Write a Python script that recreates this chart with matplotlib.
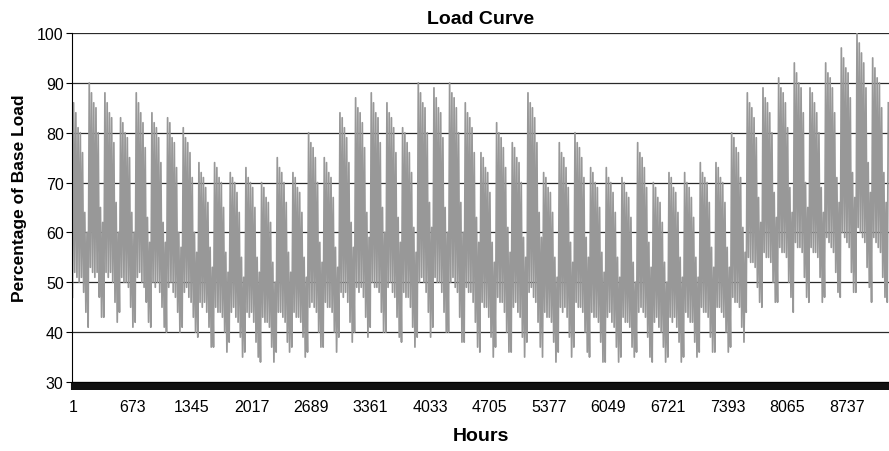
import numpy as np
from matplotlib import pyplot as plt

plt.rcParams['font.family'] = ['Liberation Sans', 'DejaVu Sans']

# Daily peak load (% of base load), one row per week: Mon..Sun
daily_peaks = [
    [86, 84, 81, 80, 76, 64, 60],
    [90, 88, 86, 85, 80, 65, 62],
    [88, 86, 84, 83, 78, 66, 60],
    [83, 82, 80, 79, 75, 64, 60],
    [88, 86, 84, 82, 77, 63, 58],
    [84, 82, 81, 79, 74, 62, 58],
    [83, 82, 79, 78, 73, 60, 57],
    [81, 79, 78, 76, 71, 60, 56],
    [74, 72, 71, 69, 66, 57, 53],
    [74, 73, 71, 70, 65, 56, 52],
    [72, 71, 70, 68, 64, 55, 51],
    [73, 71, 70, 69, 65, 55, 52],
    [70, 69, 67, 66, 62, 54, 50],
    [75, 73, 72, 70, 66, 56, 52],
    [72, 71, 69, 68, 64, 55, 51],
    [80, 78, 77, 75, 70, 58, 54],
    [75, 74, 72, 71, 67, 57, 53],
    [84, 83, 81, 79, 74, 62, 57],
    [87, 85, 84, 82, 77, 64, 59],
    [88, 86, 84, 83, 78, 65, 60],
    [86, 84, 83, 81, 76, 63, 58],
    [81, 80, 78, 76, 72, 61, 56],
    [90, 88, 86, 85, 80, 66, 61],
    [89, 87, 85, 84, 79, 65, 60],
    [90, 88, 87, 85, 80, 66, 60],
    [86, 84, 83, 81, 76, 63, 58],
    [76, 75, 73, 72, 68, 58, 54],
    [82, 80, 79, 77, 73, 61, 56],
    [78, 77, 75, 74, 70, 59, 55],
    [88, 86, 85, 83, 78, 64, 59],
    [72, 71, 69, 68, 64, 55, 51],
    [78, 76, 75, 73, 69, 58, 54],
    [80, 78, 77, 75, 71, 59, 55],
    [73, 72, 70, 69, 65, 56, 52],
    [73, 71, 70, 68, 64, 55, 51],
    [71, 70, 68, 67, 63, 54, 50],
    [78, 76, 75, 73, 69, 58, 53],
    [70, 69, 67, 66, 62, 54, 50],
    [72, 71, 69, 68, 64, 55, 51],
    [72, 70, 69, 67, 63, 55, 51],
    [74, 72, 71, 70, 66, 57, 53],
    [74, 73, 71, 70, 66, 57, 53],
    [80, 79, 77, 76, 71, 61, 56],
    [88, 86, 85, 83, 79, 67, 62],
    [89, 87, 86, 84, 80, 68, 63],
    [91, 89, 88, 86, 81, 69, 64],
    [94, 92, 90, 89, 84, 70, 65],
    [89, 88, 86, 84, 80, 69, 64],
    [94, 92, 91, 89, 84, 71, 66],
    [97, 95, 93, 92, 87, 72, 67],
    [100, 98, 96, 94, 89, 74, 68],
    [95, 93, 91, 90, 85, 72, 66],
    [86],
]

# Daily night-time minimum load (% of base load), same layout
daily_lows = [
    [47, 52, 51, 50, 51, 48, 44],
    [41, 53, 52, 51, 52, 47, 43],
    [43, 52, 51, 52, 50, 46, 42],
    [44, 51, 50, 50, 49, 45, 41],
    [42, 51, 52, 50, 49, 46, 42],
    [41, 50, 49, 50, 48, 45, 41],
    [40, 49, 50, 48, 47, 44, 40],
    [41, 48, 49, 47, 46, 43, 40],
    [39, 46, 45, 46, 44, 41, 37],
    [37, 45, 44, 44, 43, 40, 36],
    [38, 44, 45, 43, 42, 39, 35],
    [36, 44, 43, 44, 42, 38, 35],
    [34, 43, 42, 42, 41, 37, 34],
    [36, 44, 44, 43, 42, 38, 36],
    [37, 44, 43, 43, 42, 39, 35],
    [36, 45, 46, 45, 44, 40, 37],
    [37, 46, 45, 45, 44, 40, 36],
    [39, 48, 47, 48, 46, 42, 38],
    [40, 49, 48, 49, 47, 43, 39],
    [41, 50, 49, 49, 48, 44, 40],
    [40, 49, 50, 48, 47, 43, 39],
    [38, 48, 47, 47, 45, 41, 37],
    [39, 50, 51, 50, 48, 44, 39],
    [41, 51, 50, 50, 48, 44, 40],
    [40, 50, 51, 49, 48, 43, 38],
    [38, 49, 48, 48, 46, 42, 37],
    [36, 46, 45, 45, 43, 39, 35],
    [37, 47, 46, 46, 44, 40, 36],
    [36, 45, 46, 44, 43, 39, 35],
    [38, 48, 49, 47, 46, 42, 37],
    [35, 44, 43, 43, 42, 38, 34],
    [36, 45, 44, 45, 43, 39, 35],
    [37, 46, 45, 45, 44, 40, 36],
    [35, 44, 43, 43, 42, 38, 34],
    [34, 43, 44, 42, 41, 37, 34],
    [35, 43, 42, 42, 41, 37, 35],
    [36, 44, 45, 44, 43, 39, 35],
    [34, 42, 43, 41, 40, 37, 34],
    [35, 43, 42, 43, 41, 38, 34],
    [35, 44, 43, 42, 42, 38, 35],
    [36, 45, 44, 44, 43, 39, 36],
    [36, 45, 45, 44, 43, 40, 36],
    [37, 47, 46, 46, 45, 41, 38],
    [44, 55, 54, 54, 53, 49, 46],
    [45, 56, 55, 55, 54, 50, 46],
    [46, 57, 56, 56, 55, 50, 47],
    [44, 58, 57, 57, 56, 51, 47],
    [46, 57, 56, 56, 55, 51, 46],
    [47, 59, 58, 57, 56, 52, 48],
    [47, 60, 59, 58, 57, 52, 48],
    [48, 61, 60, 59, 58, 53, 49],
    [46, 59, 58, 57, 56, 51, 47],
    [46],
]

hour_labels = ["1", "673", "1345", "2017", "2689", "3361", "4033", "4705",
               "5377", "6049", "6721", "7393", "8065", "8737"]

# flatten weeks into one list of days
peaks = np.array([v for week in daily_peaks for v in week], dtype=float)
lows = np.array([v for week in daily_lows for v in week], dtype=float)
days = np.arange(len(peaks))

# night minimum around 5h, evening peak around 17h
hours = np.empty(2 * len(days))
load = np.empty(2 * len(days))
hours[0::2] = days * 24 + 5
hours[1::2] = days * 24 + 17
load[0::2] = lows
load[1::2] = peaks

fig = plt.figure(figsize=(8.89, 4.52), dpi=100)
ax = fig.add_axes([72 / 889, 1 - 383 / 452, 1 - 72 / 889, (383 - 34) / 452])

ax.plot(hours, load, color="#989898", linewidth=1.25)

ax.set_xlim(0, 8760)
ax.set_ylim(30, 100)
ax.set_yticks(np.arange(30, 101, 10))

# label spacing as in the original chart
ax.set_xticks(np.arange(len(hour_labels)) * 638 + 11)
ax.set_xticklabels(hour_labels)
ax.set_xticks(np.arange(0, 8761, 12), minor=True)

ax.grid(axis="y", color="#2a2a2a", linewidth=0.9)
ax.set_axisbelow(True)
for side in ["top", "right"]:
    ax.spines[side].set_visible(False)
ax.spines["left"].set_color("black")
ax.spines["bottom"].set_color("black")

ax.tick_params(axis="x", which="both", length=5.5, width=1.5, color="#111111",
               direction="out", labelsize=11.5, pad=7)
ax.tick_params(axis="y", length=4, width=0.8, labelsize=11.5, pad=2)

ax.set_title("Load Curve", fontsize=14, fontweight="bold", pad=7)
ax.set_xlabel("Hours", fontsize=14, fontweight="bold", labelpad=9)
ax.set_ylabel("Percentage of Base Load", fontsize=12.5, fontweight="bold", labelpad=9)
ax.yaxis.set_label_coords(-0.055, 0.53)

fig.savefig("out.png", dpi=100)
